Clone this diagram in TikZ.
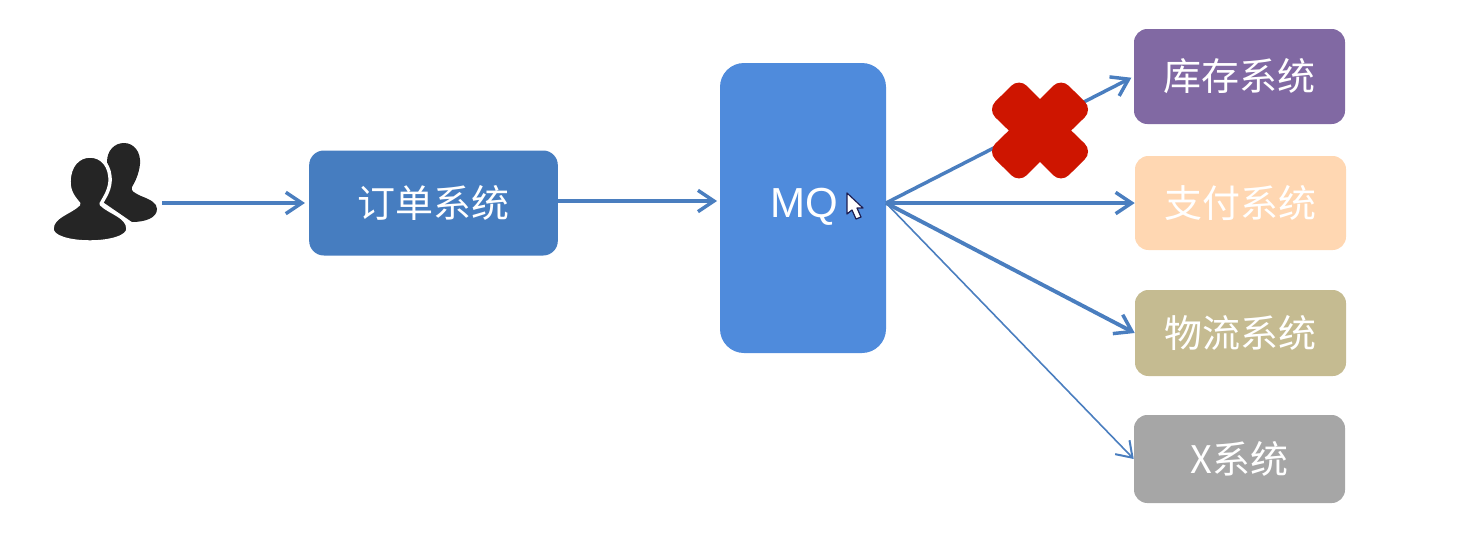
\documentclass[tikz,border=0pt]{standalone}
\usepackage{fontspec}
\setmainfont{Liberation Sans}
\newfontfamily\cjk{Noto Sans CJK SC}
\usetikzlibrary{arrows.meta,calc}
\definecolor{arrowblue}{HTML}{4A7EBF}
\definecolor{orderblue}{HTML}{467DC0}
\definecolor{mqblue}{HTML}{4F8BDC}
\definecolor{kucun}{HTML}{8169A3}
\definecolor{zhifu}{HTML}{FFD7B2}
\definecolor{wuliu}{HTML}{C5BB91}
\definecolor{xsys}{HTML}{A6A6A6}
\definecolor{crossred}{HTML}{CE1500}
\definecolor{icondark}{HTML}{252525}
\tikzset{
  sysbox/.style={rectangle,rounded corners=10pt,inner sep=0pt,text=white,font=\fontsize{28.5pt}{32pt}\selectfont\cjk},
  flow/.style={draw=arrowblue,line width=2.6pt,-{Straight Barb[length=12pt,width=16pt,line width=2.6pt]}},
  thinflow/.style={flow,line width=1.2pt,-{Straight Barb[length=11pt,width=15pt,line width=1.5pt]}},
  person/.style={fill=icondark,draw=white,line width=2.6pt,line join=round},
}
\begin{document}
\begin{tikzpicture}[x=0.75pt,y=-0.75pt]
\useasboundingbox (0,0) rectangle (1477,540);
% people icon
\path[person,draw=none] (107,162) .. controls (107,150) and (115,143) .. (124,143) .. controls (134,143) and (141,152) .. (140,164) .. controls (139,174) and (135,182) .. (132,187) .. controls (130,191) and (135,193) .. (141,196) .. controls (151,200) and (157,203) .. (157,209) .. controls (157,218) and (145,222) .. (132,222) -- (100,200) -- (110,172) -- cycle;
\path[person] (69,182) .. controls (69,166) and (78,156) .. (90,156) .. controls (102,156) and (111,166) .. (110,182) .. controls (109,192) and (104,198) .. (101,204) .. controls (110,213) and (128,216) .. (128,229) .. controls (128,237) and (110,242) .. (90,242) .. controls (69,242) and (52,237) .. (52,229) .. controls (52,216) and (70,213) .. (79,204) .. controls (74,198) and (69,192) .. (69,182) -- cycle;
\coordinate (usr) at (162,203);
% boxes
\node[sysbox,fill=orderblue,rounded corners=11pt,minimum width=186.5pt,minimum height=78.75pt] (order) at (433.5,203) {订单系统};
\node[sysbox,fill=mqblue,rounded corners=18pt,minimum width=124.5pt,minimum height=217.5pt] (mq) at (803,208) {};
\node[text=white,font=\fontsize{31.5pt}{34pt}\selectfont,inner sep=0pt] (mqlabel) at (804,207) {MQ};
\node[sysbox,fill=kucun,minimum width=158.25pt,minimum height=71.25pt] (kc) at (1239.5,76.5) {库存系统};
\node[sysbox,fill=zhifu,minimum width=158.25pt,minimum height=70.5pt] (zf) at (1240.5,203) {支付系统};
\node[sysbox,fill=wuliu,minimum width=158.25pt,minimum height=64.5pt] (wl) at (1240.5,333) {物流系统};
\node[sysbox,fill=xsys,minimum width=158.25pt,minimum height=66pt] (xs) at (1239.5,459) {X系统};
% connector ends
\coordinate (mqout) at (886,203);
% connectors
\draw[flow,shorten >=3pt] (usr) -- (order.west);
\draw[flow,shorten >=2pt] (order.east |- 0,201) -- (mq.west |- 0,201);
\draw[flow,shorten >=2pt] (mqout) -- (kc.west);
\draw[flow] (mqout) -- (zf.west);
\draw[flow,line width=2.9pt] (mqout) -- (wl.west);
\draw[thinflow] (mqout) -- (xs.west);
% red cross
\path[fill=crossred,draw=crossred,line width=16.5pt,line join=round] (1040,114.6) -- (1019,93.6) -- (1003,109.5) -- (1024.6,130.5) -- (1003,151.5) -- (1019,167.4) -- (1040,146.4) -- (1061,167.4) -- (1077,151.5) -- (1055.4,130.5) -- (1077,109.5) -- (1061,93.6) -- cycle;
% mouse pointer
\path[fill=white,draw=icondark!80!blue,line width=0.9pt,line join=round] (847,193) -- (847,214) -- (852,210) -- (856,219) -- (861,217) -- (857,208) -- (863,208) -- cycle;
\end{tikzpicture}
\end{document}
